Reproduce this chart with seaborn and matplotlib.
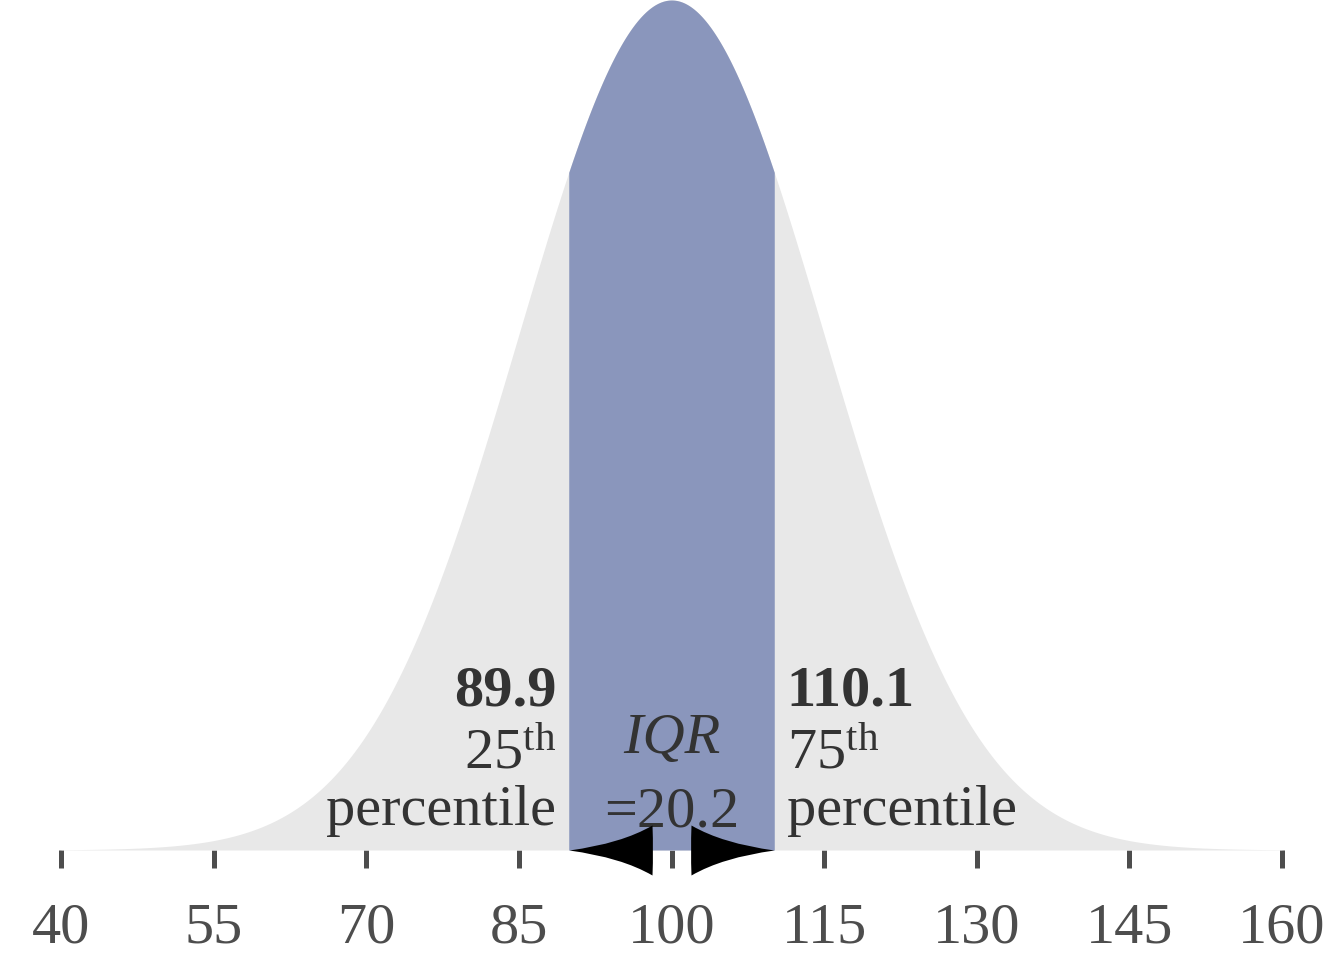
import numpy as np
import pandas as pd
import matplotlib
matplotlib.use("Agg")
import matplotlib.pyplot as plt
from matplotlib.path import Path
from matplotlib.markers import MarkerStyle
import seaborn as sns

# ---- data ----
mean = 100.0
sd = 15.0
q1 = 89.9
q3 = 110.1
iqr = 20.2
x_ticks = [40, 55, 70, 85, 100, 115, 130, 145, 160]
x_tick_labels = ["40", "55", "70", "85", "100", "115", "130", "145", "160"]

x = np.linspace(x_ticks[0], x_ticks[-1], 1201)
dens = np.exp(-0.5 * ((x - mean) / sd) ** 2) / (sd * np.sqrt(2 * np.pi))
df = pd.DataFrame({"x": x, "density": dens})
peak = 1 / (sd * np.sqrt(2 * np.pi))

sns.set_theme(style="white")
plt.rcParams["font.family"] = ["Liberation Serif", "DejaVu Serif"]
plt.rcParams["mathtext.fontset"] = "custom"
plt.rcParams["mathtext.rm"] = "Liberation Serif"
plt.rcParams["mathtext.it"] = "Liberation Serif:italic"

GRAY = "#e8e8e8"
BLUE = "#8a96bc"
TXT = "#333333"
TICK = "#4d4d4d"

fig = plt.figure(figsize=(13.44, 9.6), dpi=100)
ax = fig.add_axes([0, 110 / 960, 1, 850 / 960])

sns.lineplot(data=df, x="x", y="density", ax=ax, lw=0, color=GRAY)
ax.fill_between(df["x"], 0, df["density"], color=GRAY, lw=0)
m = (df["x"] >= q1) & (df["x"] <= q3)
xb = np.concatenate([[q1], df["x"][m].values, [q3]])
yb = np.exp(-0.5 * ((xb - mean) / sd) ** 2) / (sd * np.sqrt(2 * np.pi))
ax.fill_between(xb, 0, yb, color=BLUE, lw=0)

px_per_unit = 1221 / 120
ax.set_xlim(x_ticks[0] - 61 / px_per_unit, x_ticks[-1] + 62 / px_per_unit)
ax.set_ylim(0, peak)
ax.set_xticks(x_ticks)
ax.set_xticklabels(x_tick_labels)
ax.set_yticks([])
ax.set_xlabel("")
ax.set_ylabel("")
for s in ax.spines.values():
    s.set_visible(False)
ax.tick_params(axis="x", direction="out", length=13, width=3.6, color=TICK,
               labelsize=42, labelcolor=TICK, pad=25, bottom=True)

# arrowheads (concave-sided), tip at the marker origin
def head_path(sign):
    verts = [(0, 0), (52, 7), (83, 25), (84, 0), (83, -25), (52, -7), (0, 0), (0, 0)]
    verts = [(sign * vx, vy) for vx, vy in verts]
    codes = [Path.MOVETO, Path.CURVE3, Path.CURVE3, Path.CURVE3, Path.CURVE3,
             Path.CURVE3, Path.CURVE3, Path.CLOSEPOLY]
    return Path(verts, codes)

ms_pt = 2 * 84 * 72 / fig.dpi
for end, sign in ((q1, 1), (q3, -1)):
    ax.plot([end], [0], linestyle="none", marker=MarkerStyle(head_path(sign)),
            markersize=ms_pt, markerfacecolor="black", markeredgewidth=0,
            clip_on=False, zorder=5)

fs = 42
# left labels
ax.annotate(f"{q1:.1f}", xy=(q1, 0), xytext=(-9, 104), textcoords="offset points",
            ha="right", va="baseline", fontsize=fs, fontweight="bold", color=TXT)
ax.annotate(r"25$^{\mathrm{th}}$", xy=(q1, 0), xytext=(-9, 59), textcoords="offset points",
            ha="right", va="baseline", fontsize=fs, color=TXT)
ax.annotate("percentile", xy=(q1, 0), xytext=(-9, 18), textcoords="offset points",
            ha="right", va="baseline", fontsize=fs, color=TXT)
# right labels
ax.annotate(f"{q3:.1f}", xy=(q3, 0), xytext=(9, 104), textcoords="offset points",
            ha="left", va="baseline", fontsize=fs, fontweight="bold", color=TXT)
ax.annotate(r"75$^{\mathrm{th}}$", xy=(q3, 0), xytext=(9, 59), textcoords="offset points",
            ha="left", va="baseline", fontsize=fs, color=TXT)
ax.annotate("percentile", xy=(q3, 0), xytext=(9, 18), textcoords="offset points",
            ha="left", va="baseline", fontsize=fs, color=TXT)
# IQR
ax.annotate("IQR", xy=(mean, 0), xytext=(0, 70), textcoords="offset points",
            ha="center", va="baseline", fontsize=fs, fontstyle="italic", color=TXT)
ax.annotate(f"={iqr:.1f}", xy=(mean, 0), xytext=(0, 17), textcoords="offset points",
            ha="center", va="baseline", fontsize=fs, color=TXT)

fig.savefig("out.png", dpi=100)
